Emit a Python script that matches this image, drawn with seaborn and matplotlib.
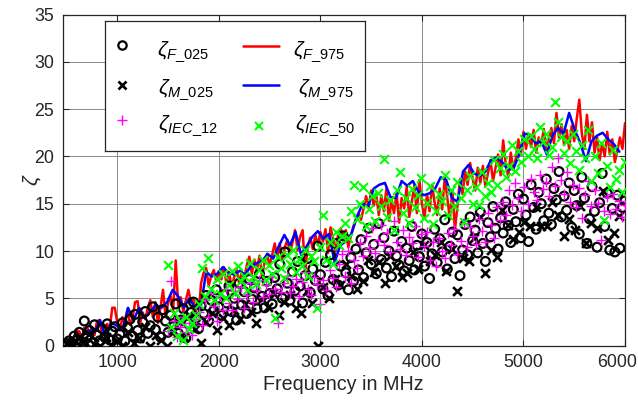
import numpy as np
import matplotlib
matplotlib.use("Agg")
import matplotlib.pyplot as plt
import matplotlib.transforms as mtransforms
import seaborn as sns

# Frequency grids (MHz)
freq_f = np.arange(500, 6001, 25)          # F_025 / F_975 grid
freq_m = np.arange(500, 5946, 55)          # M_025 / M_975 grid
freq_iec = np.arange(1500, 6001, 30)       # IEC grid

# zeta_F_975 (red line)
zeta_f975 = [
    0.3, 0.4, 0.5, 0.9, 1.6, 1.5, 0.8, 1.9, 2.0, 1.3, 1.9, 1.1, 2.6, 2.7, 1.0, 1.5, 2.3, 1.8, 4.0, 4.0, 2.4,
    1.6, 3.0, 2.2, 3.8, 2.2, 2.9, 4.6, 4.7, 2.4, 3.5, 2.8, 4.0, 4.8, 3.0, 4.6, 2.4, 4.0, 5.9, 3.0, 4.5,
    5.2, 3.8, 9.0, 4.2, 5.1, 3.6, 4.8, 5.9, 4.6, 5.0, 3.4, 3.2, 6.6, 7.7, 8.2, 6.3, 7.4, 8.0, 6.8, 7.9,
    7.0, 8.3, 6.5, 7.8, 6.2, 7.2, 8.0, 6.6, 7.8, 7.0, 8.5, 9.4, 7.6, 9.1, 8.0, 9.5, 7.3, 8.8, 9.7, 8.4,
    9.6, 10.8, 9.4, 10.8, 9.0, 10.4, 11.2, 9.8, 10.9, 12.2, 10.1, 11.5, 12.2, 7.7, 10.5, 11.4, 10.2, 11.7, 10.6, 12.0,
    11.0, 12.3, 9.8, 12.5, 11.2, 10.0, 11.8, 12.4, 11.4, 12.2, 10.4, 11.6, 12.6, 13.4, 14.0, 13.3, 14.5, 15.8, 14.6, 16.4,
    14.8, 16.0, 13.8, 15.9, 14.2, 16.6, 13.2, 15.4, 14.0, 16.2, 13.0, 15.6, 14.5, 16.8, 13.6, 15.2, 16.9, 14.0, 17.5, 15.0,
    13.5, 16.0, 14.2, 17.0, 15.1, 13.8, 16.6, 14.4, 17.8, 15.6, 13.4, 16.4, 12.2, 14.8, 17.6, 16.0, 18.4, 17.0, 19.3, 17.6,
    16.4, 18.8, 17.2, 19.0, 16.8, 18.2, 19.6, 17.4, 18.8, 20.2, 18.0, 21.7, 19.2, 17.8, 20.4, 18.6, 19.8, 21.8, 20.2, 22.6,
    20.8, 22.4, 21.0, 22.8, 20.4, 22.0, 21.2, 22.9, 20.6, 21.8, 23.0, 21.4, 24.6, 22.0, 23.4, 21.2, 22.8, 20.8, 23.2, 21.6,
    24.0, 26.0, 22.4, 20.8, 24.4, 21.6, 23.6, 20.4, 22.0, 19.6, 21.4, 20.0, 22.6, 20.2, 21.8, 19.4, 20.6, 22.0, 20.8, 23.5,
]

# zeta_M_975 (blue line)
zeta_m975 = [
    0.1, 0.4, 0.7, 1.2, 1.6, 1.4, 2.7, 0.8, 2.4, 2.1,
    1.6, 4.0, 2.7, 4.0, 2.9, 3.6, 4.3, 4.0, 4.6, 5.9,
    5.2, 4.0, 5.0, 4.0, 4.0, 7.8, 7.3, 7.6, 8.3, 7.7,
    7.5, 7.9, 7.5, 8.4, 8.7, 8.9, 9.7, 9.2, 10.5, 11.7,
    10.6, 12.0, 9.6, 10.5, 11.5, 12.1, 11.3, 11.8, 8.8, 10.6,
    11.0, 11.8, 13.6, 15.0, 14.7, 16.6, 17.0, 17.2, 15.7, 15.6,
    17.4, 16.9, 17.4, 16.3, 15.9, 16.1, 16.6, 17.8, 17.5, 15.6,
    15.2, 18.4, 19.1, 18.2, 17.9, 18.4, 19.6, 19.9, 19.4, 18.6,
    18.7, 20.1, 22.4, 22.3, 21.4, 21.6, 20.2, 22.2, 23.0, 22.4,
    24.6, 22.8, 21.4, 19.5, 21.6, 22.2, 22.5, 21.8, 21.3, 20.5,
]

# zeta_F_025 (black circles)
zeta_f025 = [
    0.2, 0.5, 0.3, 1.0, 0.6, 1.4, 0.4, 2.6, 0.8, 1.6, 0.3, 2.2, 1.1, 0.5, 1.8, 0.9, 2.3, 0.6, 1.5, 2.0, 0.7,
    1.2, 2.4, 0.5, 1.9, 2.8, 1.0, 3.3, 1.6, 0.8, 2.5, 3.6, 1.3, 2.1, 4.1, 1.7, 3.0, 0.9, 3.8, 2.6, 1.4,
    3.2, 2.0, 4.4, 1.3, 2.7, 3.9, 0.8, 2.3, 3.5, 4.6, 2.9, 1.8, 4.2, 3.4, 5.3, 2.6, 4.8, 3.7, 5.9, 4.1,
    3.2, 5.4, 4.5, 6.3, 3.6, 5.0, 2.7, 6.6, 4.3, 5.7, 3.4, 7.0, 4.9, 6.1, 3.9, 7.6, 5.2, 4.0, 6.8, 5.5,
    4.4, 7.2, 6.0, 8.6, 5.0, 9.9, 6.6, 4.8, 7.8, 5.8, 8.9, 6.3, 4.5, 7.4, 9.2, 5.6, 8.1, 6.9, 10.5, 7.5,
    6.0, 8.8, 5.3, 9.6, 7.0, 10.8, 6.4, 8.4, 11.6, 7.7, 5.9, 9.3, 6.8, 10.2, 8.0, 11.2, 7.2, 9.8, 12.4, 8.6,
    10.7, 7.6, 12.9, 9.1, 11.4, 8.2, 10.0, 7.3, 12.1, 9.5, 8.5, 11.0, 7.9, 10.3, 9.0, 12.6, 8.0, 10.6, 9.4, 11.8,
    8.4, 10.9, 7.1, 9.7, 12.3, 8.8, 11.3, 9.9, 13.3, 8.1, 10.5, 12.0, 9.2, 11.7, 7.4, 10.1, 12.8, 9.6, 13.6, 11.1,
    12.2, 9.8, 14.1, 10.8, 8.9, 13.0, 11.5, 14.7, 12.4, 10.2, 13.5, 11.9, 15.2, 12.7, 10.9, 14.4, 13.1, 16.0, 11.4, 15.5,
    13.8, 11.0, 17.0, 14.6, 12.3, 16.2, 15.0, 13.2, 17.6, 14.0, 12.8, 16.6, 15.4, 18.4, 13.6, 15.8, 14.3, 17.2, 12.5, 16.4,
    14.8, 11.8, 17.8, 15.6, 10.8, 13.4, 16.8, 14.2, 10.4, 15.1, 18.2, 12.6, 16.1, 10.1, 14.5, 9.9, 15.9, 10.3, 14.6, 15.3,
]

# zeta_M_025 (black crosses)
zeta_m025 = [
    0.3, 0.1, 0.8, 0.4, 1.2, 0.2, 0.0, 0.9, 0.1, 0.5,
    0.0, 1.4, 0.3, 0.8, 2.0, 0.0, 1.1, 0.6, 0.0, 1.7,
    2.6, 0.9, 3.2, 1.8, 0.3, 2.5, 3.4, 1.6, 2.9, 2.2,
    3.8, 2.8, 4.4, 3.5, 2.4, 4.9, 4.1, 5.6, 3.2, 4.6,
    5.3, 4.0, 3.4, 5.8, 4.5, 0.0, 6.2, 5.0, 7.0, 6.4,
    8.6, 7.4, 6.0, 6.8, 9.0, 7.8, 8.8, 6.6, 9.5, 8.4,
    7.2, 7.7, 9.9, 8.1, 10.6, 8.9, 9.6, 11.0, 7.9, 10.2,
    5.8, 9.3, 8.9, 11.4, 13.6, 7.7, 10.1, 9.4, 14.3, 12.8,
    11.3, 12.0, 13.1, 12.6, 14.6, 12.6, 12.6, 15.2, 13.8, 11.6,
    13.4, 12.2, 14.8, 10.8, 13.0, 12.4, 16.3, 11.2, 11.9, 13.7,
]

# zeta_IEC_12 (magenta plus)
zeta_iec12 = [
    1.5, 6.8, 2.6, 0.9, 2.0, 3.0, 1.4, 2.4, 1.1, 2.8,
    3.6, 2.2, 4.8, 3.0, 5.6, 4.2, 2.6, 5.2, 3.8, 6.0,
    4.5, 3.8, 5.8, 4.9, 6.2, 4.0, 5.4, 6.6, 4.6, 5.9,
    6.9, 5.1, 6.4, 5.5, 7.2, 6.0, 2.4, 5.7, 6.6, 7.4,
    5.6, 6.3, 7.0, 5.2, 6.7, 7.8, 6.0, 5.4, 7.3, 6.5,
    4.4, 6.9, 5.9, 8.0, 7.1, 6.2, 8.6, 9.7, 7.4, 10.0,
    6.6, 9.0, 8.2, 10.8, 9.5, 11.6, 10.3, 12.4, 9.8, 11.2,
    12.8, 10.6, 11.9, 9.9, 13.2, 11.0, 10.2, 12.2, 9.6, 11.5,
    10.8, 12.6, 9.4, 11.8, 10.5, 12.0, 9.0, 10.9, 8.4, 11.4,
    10.0, 9.3, 11.9, 10.6, 12.3, 9.7, 11.1, 13.0, 10.4, 12.5,
    11.6, 10.7, 13.4, 12.1, 10.9, 14.0, 12.8, 11.4, 14.6, 13.3,
    15.2, 13.8, 16.4, 14.9, 17.2, 15.6, 14.2, 16.8, 15.0, 17.6,
    16.2, 15.4, 18.0, 16.6, 17.3, 15.8, 18.9, 16.9, 19.8, 17.5,
    16.0, 18.3, 15.2, 17.0, 14.6, 16.7, 13.5, 15.9, 17.4, 14.8,
    16.4, 15.1, 11.2, 14.2, 15.7, 13.9, 16.0, 14.4, 15.3, 13.6,
    14.9,
]

# zeta_IEC_50 (green crosses)
zeta_iec50 = [
    8.5, 2.0, 3.4, 1.0, 2.6, 0.6, 3.0, 1.8, 2.4, 3.2,
    4.4, 8.2, 5.2, 9.3, 6.0, 4.8, 7.0, 5.5, 7.6, 5.0,
    6.4, 7.9, 5.6, 8.4, 6.8, 7.4, 5.9, 8.7, 7.2, 6.5,
    8.0, 9.0, 6.9, 8.5, 7.6, 2.9, 9.4, 8.2, 7.1, 9.6,
    8.6, 10.1, 7.8, 9.2, 8.4, 10.1, 7.4, 9.5, 8.9, 4.0,
    10.4, 13.8, 9.1, 11.0, 8.6, 12.0, 10.6, 11.6, 13.0, 11.4,
    14.2, 17.0, 13.4, 15.0, 16.8, 12.6, 14.4, 15.8, 13.2, 16.1,
    14.8, 19.7, 13.6, 15.4, 12.2, 16.4, 18.4, 14.0, 15.6, 13.0,
    16.6, 14.6, 15.9, 17.7, 13.5, 15.1, 16.9, 12.9, 14.2, 16.0,
    15.3, 18.0, 13.8, 16.4, 14.8, 17.3, 15.6, 13.1, 16.5, 17.9,
    15.0, 16.8, 14.9, 18.4, 15.8, 17.2, 16.2, 19.6, 17.0, 18.8,
    20.3, 17.8, 19.0, 21.2, 18.5, 20.6, 19.4, 21.8, 20.0, 22.2,
    20.8, 19.8, 23.1, 21.5, 22.4, 20.2, 21.0, 25.7, 23.6, 22.0,
    20.4, 21.6, 19.3, 22.4, 20.6, 18.6, 21.2, 19.8, 22.8, 17.4,
    20.0, 18.2, 21.4, 13.3, 19.0, 16.8, 20.7, 17.6, 18.6, 16.2,
    19.4,
]

x_ticks = [1000, 2000, 3000, 4000, 5000, 6000]
y_ticks = [0, 5, 10, 15, 20, 25, 30, 35]
x_label = "Frequency in MHz"
y_label = r"$\zeta$"
legend_labels = [r"$\zeta_{F\_025}$", r"$\zeta_{M\_025}$", r"$\zeta_{IEC\_12}$",
                 r"$\zeta_{F\_975}$", r"$\zeta_{M\_975}$", r"$\zeta_{IEC\_50}$"]

sns.set_style("ticks")
plt.rcParams["font.family"] = ["Liberation Sans", "DejaVu Sans"]
plt.rcParams["mathtext.fontset"] = "custom"
plt.rcParams["mathtext.rm"] = "Liberation Sans"
plt.rcParams["mathtext.it"] = "Liberation Sans:italic"
plt.rcParams["mathtext.bf"] = "Liberation Sans:bold"

W, H = 638, 401
fig = plt.figure(figsize=(W / 100, H / 100), dpi=100)
ax = fig.add_axes([62.5 / W, 1 - 345.6 / H, (625 - 62.5) / W, (345.6 - 14.5) / H])

RED, BLUE, MAG, GRN = "#ff0000", "#0000ff", "#ff00ff", "#00ff00"

sns.lineplot(x=freq_f, y=zeta_f975, ax=ax, color=RED, linewidth=1.8, zorder=3)
sns.lineplot(x=freq_m, y=zeta_m975, ax=ax, color=BLUE, linewidth=1.8, zorder=3)
sns.scatterplot(x=freq_f, y=zeta_f025, ax=ax, marker="o", s=40, facecolors="none",
                edgecolors="black", linewidths=1.6, zorder=4)
sns.scatterplot(x=freq_m, y=zeta_m025, ax=ax, marker="x", s=40, color="black",
                linewidths=1.9, zorder=4)
sns.scatterplot(x=freq_iec, y=zeta_iec12, ax=ax, marker="+", s=58, color=MAG,
                linewidths=1.0, zorder=5)
sns.scatterplot(x=freq_iec, y=zeta_iec50, ax=ax, marker="x", s=40, color=GRN,
                linewidths=1.5, zorder=5)

ax.set_xlim(460, 6000)
ax.set_ylim(0, 35)
ax.set_xticks(x_ticks)
ax.set_yticks(y_ticks)
ax.grid(True, color="#8a8a8a", linewidth=0.7, zorder=0)
ax.set_axisbelow(True)
for sp in ax.spines.values():
    sp.set_visible(True)
    sp.set_color("#262626")
    sp.set_linewidth(0.9)
ax.tick_params(direction="in", length=4, width=0.8, colors="#262626",
               labelsize=12.8, top=True, right=True, pad=6)
ax.set_xlabel(x_label, fontsize=14.2, color="#262626", labelpad=3)
ax.set_ylabel(y_label, fontsize=15, color="#262626", labelpad=-6)

# keep the last frequency label inside the canvas
last = ax.xaxis.get_major_ticks()[-1].label1
last.set_transform(last.get_transform() +
                   mtransforms.ScaledTranslation(-8 / 100, 0, fig.dpi_scale_trans))

# Legend panel, laid out in pixel units
lx0, lx1, ly0, ly1 = 105, 365, 20.7, 151
lax = fig.add_axes([lx0 / W, 1 - ly1 / H, (lx1 - lx0) / W, (ly1 - ly0) / H])
lax.set_zorder(10)
lax.set_xlim(lx0, lx1)
lax.set_ylim(ly1, ly0)
lax.set_xticks([])
lax.set_yticks([])
lax.set_facecolor("white")
for sp in lax.spines.values():
    sp.set_color("#262626")
    sp.set_linewidth(0.9)

lax.plot([121.7], [45], marker="o", ms=6, mfc="none", mec="black", mew=1.6, ls="none")
lax.plot([121.7], [85], marker="x", ms=6, color="black", mew=1.9, ls="none")
lax.plot([121.7], [120], marker="+", ms=7.8, color=MAG, mew=1.0, ls="none")
lax.plot([243.3, 279], [45.7, 45.7], color=RED, lw=1.8)
lax.plot([243.3, 279], [85, 85], color=BLUE, lw=1.8)
lax.plot([259.3], [126], marker="x", ms=6, color=GRN, mew=1.5, ls="none")

label_pos = [(157, 52), (157.7, 90), (157.7, 126), (293.3, 52), (298.3, 90), (295, 126)]
for (tx, ty), lab in zip(label_pos, legend_labels):
    lax.text(tx, ty, lab, fontsize=15, color="black", ha="left", va="center")

fig.savefig("out.png", dpi=100)
